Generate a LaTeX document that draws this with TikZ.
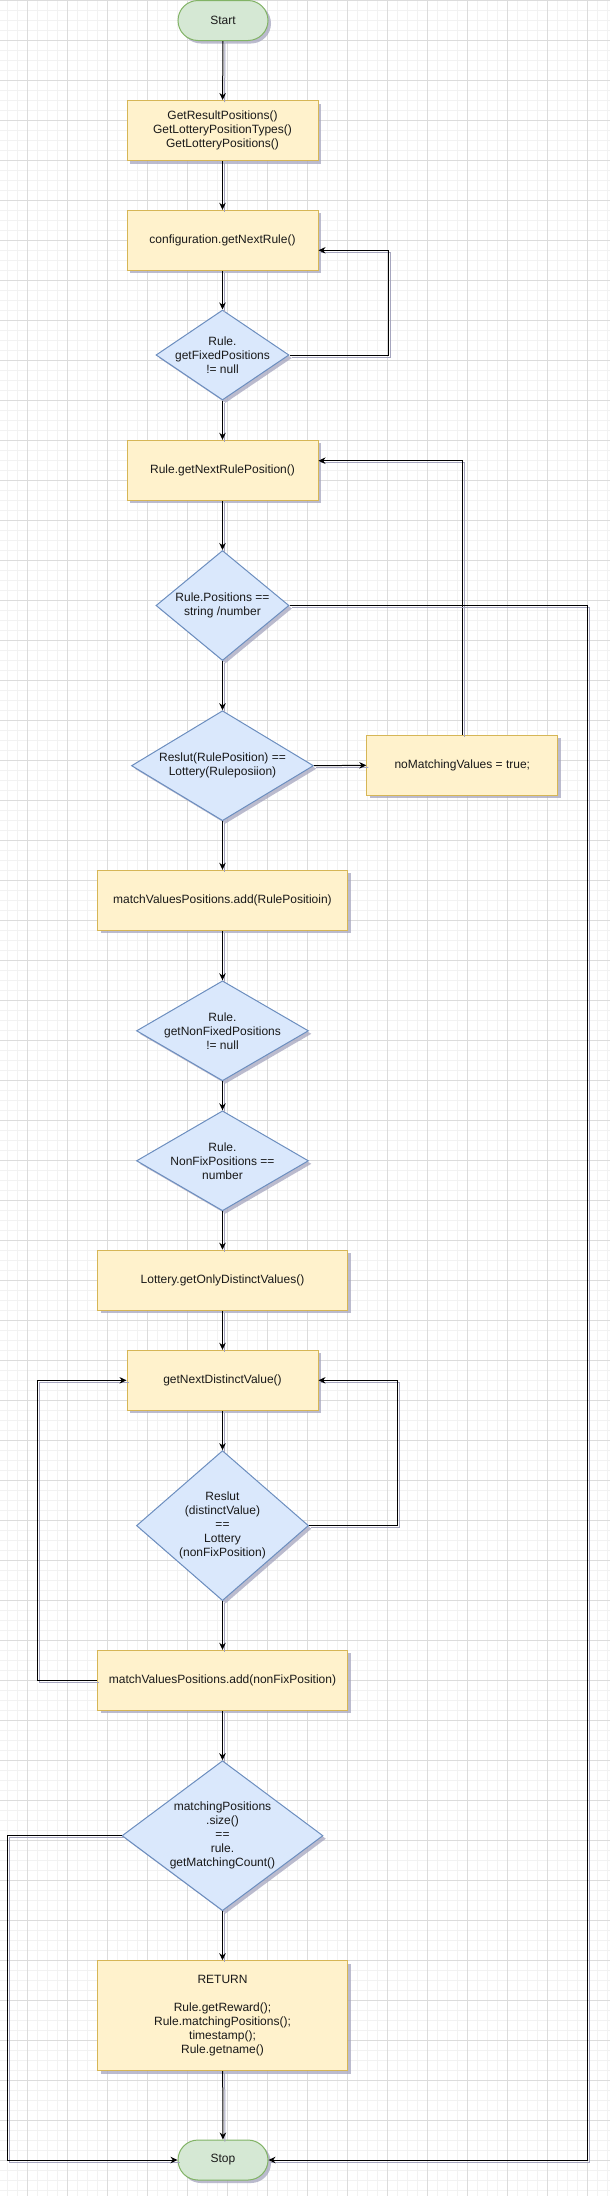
\documentclass[tikz,border=0pt]{standalone}
\usepackage{fontspec}
\setmainfont{Liberation Sans}
\usetikzlibrary{shapes.geometric,arrows.meta,shadows,calc}
\definecolor{yfill}{HTML}{FFF2CC}
\definecolor{ydraw}{HTML}{D6B656}
\definecolor{bfill}{HTML}{DAE8FC}
\definecolor{bdraw}{HTML}{6C8EBF}
\definecolor{gfill}{HTML}{D5E8D4}
\definecolor{gdraw}{HTML}{82B366}
\definecolor{shcol}{RGB}{165,165,190}
\definecolor{gridmaj}{HTML}{DCDCDC}
\definecolor{gridmin}{HTML}{F2F2F2}
\begin{document}
\begin{tikzpicture}[x=1pt,y=-1pt,
  txt/.style={font=\fontsize{12}{14}\selectfont, align=center, text=black!90},
  shad/.style={drop shadow={shadow xshift=3pt,shadow yshift=-3pt,fill=shcol,opacity=0.75}},
  proc/.style={rectangle, draw=ydraw, fill=yfill, line width=1pt, minimum width=191pt, minimum height=60pt, inner sep=0pt, txt, shad},
  wideproc/.style={proc, minimum width=250pt},
  term/.style={rectangle, rounded corners=20pt, draw=gdraw, fill=gfill, line width=1pt, minimum width=90pt, minimum height=40pt, inner sep=0pt, txt, shad},
  dec/.style={diamond, draw=bdraw, fill=bfill, line width=1pt, inner sep=0pt, shad},
  flow/.style={line width=1pt, -{Stealth[length=7pt,width=6.5pt]},
    preaction={draw, -, shcol, line width=1pt, transform canvas={shift={(2pt,-2pt)}}}}]
\useasboundingbox (0,0) rectangle (610,2196);
\fill[white] (0,0) rectangle (610,2196);
% grid
\foreach \x in {7.3,17.3,...,607.3} \draw[gridmin, line width=1pt] (\x,0) -- (\x,2196);
\foreach \y in {0.3,10.3,...,2190.3} \draw[gridmin, line width=1pt] (0,\y) -- (610,\y);
\foreach \x in {27.3,67.3,...,587.3} \draw[gridmaj, line width=1pt] (\x,0) -- (\x,2196);
\foreach \y in {0.3,40.3,...,2160.3} \draw[gridmaj, line width=1pt] (0,\y) -- (610,\y);

% nodes
\node[term] (start) at (223,20.5) {Start};
\node[proc] (b1) at (222.5,130.5) {GetResultPositions()\\GetLotteryPositionTypes()\\GetLotteryPositions()};
\node[proc] (b2) at (222.5,240.3) {configuration.getNextRule()};
\node[dec, minimum width=133pt, minimum height=90pt] (d1) at (222.5,355) {};
\node[txt] (d1t) at (d1.center) {Rule.\\getFixedPositions\\!= null};
\node[proc] (b3) at (222.5,470.3) {Rule.getNextRulePosition()};
\node[dec, minimum width=133pt, minimum height=110pt] (d2) at (222.5,605.5) {};
\node[txt] (d2t) at (d2.center) {Rule.Positions ==\\string /number};
\node[dec, minimum width=182pt, minimum height=110pt] (d3) at (222.5,765.7) {};
\node[txt] (d3t) at (d3.center) {Reslut(RulePosition) ==\\Lottery(Ruleposiion)};
\node[proc] (nm) at (462.3,765.3) {noMatchingValues = true;};
\node[wideproc] (b4) at (222.5,900.3) {matchValuesPositions.add(RulePositioin)};
\node[dec, minimum width=172pt, minimum height=100pt] (d4) at (222.5,1030.8) {};
\node[txt] (d4t) at (d4.center) {Rule.\\getNonFixedPositions\\!= null};
\node[dec, minimum width=172pt, minimum height=100pt] (d5) at (222.5,1160.8) {};
\node[txt] (d5t) at (d5.center) {Rule.\\NonFixPositions ==\\number};
\node[wideproc] (b5) at (222.5,1280.2) {Lottery.getOnlyDistinctValues()};
\node[proc] (b6) at (222.5,1380.3) {getNextDistinctValue()};
\node[dec, minimum width=172pt, minimum height=150pt] (d6) at (222.5,1525.6) {};
\node[txt] (d6t) at (d6.center) {Reslut\\(distinctValue)\\==\\Lottery\\(nonFixPosition)};
\node[wideproc] (b7) at (222.5,1680.3) {matchValuesPositions.add(nonFixPosition)};
\node[dec, minimum width=201pt, minimum height=150pt] (d7) at (222.5,1835.7) {};
\node[txt] (d7t) at (d7.center) {matchingPositions\\.size()\\==\\rule.\\getMatchingCount()};
\node[wideproc, minimum height=110pt] (b8) at (222.5,2015.7) {RETURN\\[14pt]Rule.getReward();\\Rule.matchingPositions();\\timestamp();\\Rule.getname()};
\node[term] (stop) at (223,2160) {Stop};

% helper points
\coordinate (c1) at (388,250.3);
\coordinate (c2) at (462.3,460.7);
\coordinate (c3) at (397.3,1380.3);
\coordinate (c4) at (37.7,1380.3);
\coordinate (c5) at (7.4,2160);
\coordinate (rr) at (587.3,2160);

% straight flow
\draw[flow] (start) -- (b1);
\draw[flow] (b1) -- (b2);
\draw[flow] (b2) -- (d1);
\draw[flow] (d1) -- (b3);
\draw[flow] (b3) -- (d2);
\draw[flow] (d2) -- (d3);
\draw[flow] (d3) -- (b4);
\draw[flow] (b4) -- (d4);
\draw[flow] (d4) -- (d5);
\draw[flow] (d5) -- (b5);
\draw[flow] (b5) -- (b6);
\draw[flow] (b6) -- (d6);
\draw[flow] (d6) -- (b7);
\draw[flow] (b7) -- (d7);
\draw[flow] (d7) -- (b8);
\draw[flow] (b8) -- (stop);
% branches and loops
\draw[flow] (d1.east) -| (c1) -- (c1 -| b2.east);
\draw[flow] (d3.east) -- (nm.west);
\draw[flow] (nm.north) -- (c2) -- (c2 -| b3.east);
\draw[flow] (d2.east) -| (rr) -- (stop.east);
\draw[flow] (d6.east) -| (c3) -- (b6.east);
\draw[flow] (b7.west) -| (c4) -- (b6.west);
\draw[flow] (d7.west) -| (c5) -- (stop.west);
\end{tikzpicture}
\end{document}
